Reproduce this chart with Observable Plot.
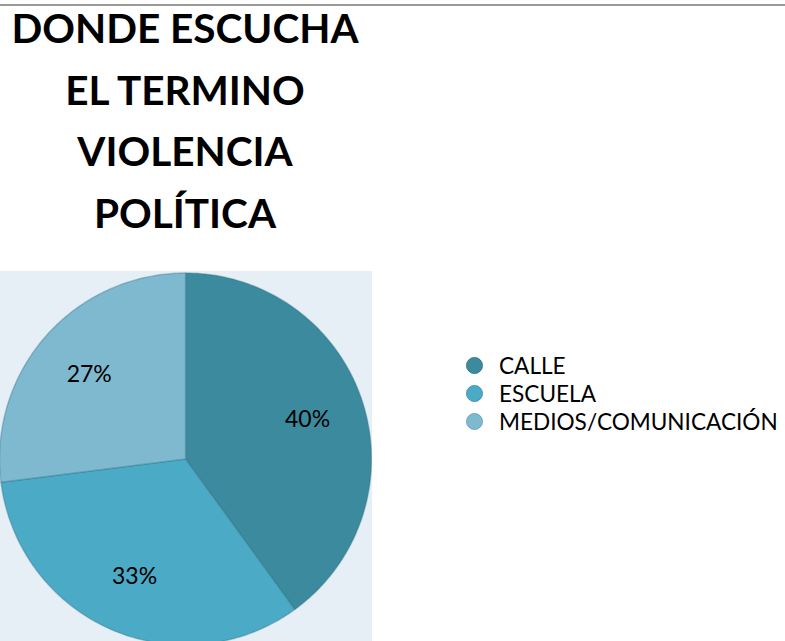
<!DOCTYPE html>
<html>
<head>
<meta charset="utf-8">
<script src="https://cdn.jsdelivr.net/npm/d3@7"></script>
<script src="https://cdn.jsdelivr.net/npm/@observablehq/plot@0.6"></script>
<style>
  html, body { margin: 0; padding: 0; background: #ffffff; }
  body { width: 785px; height: 641px; position: relative; overflow: hidden; font-family: Lato, "Open Sans", sans-serif; }
  #topline { position: absolute; left: 0; top: 4px; width: 785px; height: 2px; background: #9a9a9a; }
  #title { position: absolute; left: 0; top: -3px; width: 370px; text-align: center; font-weight: 700; font-size: 40.5px; line-height: 61.5px; color: #000; }
  #chart { position: absolute; left: 0; top: 271px; width: 372px; height: 370px; overflow: hidden; }
  #legend { position: absolute; left: 466px; top: 351px; font-size: 22.6px; color: #000; }
  .item { display: flex; align-items: center; height: 28px; }
  .sw { width: 17px; height: 17px; border-radius: 50%; margin-right: 16px; box-sizing: border-box; }
</style>
</head>
<body>
<div id="topline"></div>
<div id="title">DONDE ESCUCHA<br>EL TERMINO<br>VIOLENCIA<br>POLÍTICA</div>
<div id="chart"></div>
<div id="legend"></div>
<script>
const categories = ["CALLE", "ESCUELA", "MEDIOS/COMUNICACIÓN"];
const values = [40, 33, 27];
const valueLabels = ["40%", "33%", "27%"];
const colors = ["#3C8A9E", "#4BAAC5", "#7EB9CF"];
const edgeColors = ["#347b8d", "#4298b1", "#6ea7bd"];

const arcs = d3.pie().sort(null).value(d => d)(values);
const slicePts = [];
arcs.forEach((a, i) => {
  slicePts.push({key: categories[i], x: 0, y: 0});
  const n = 120;
  for (let k = 0; k <= n; k++) {
    const t = a.startAngle + (a.endAngle - a.startAngle) * k / n;
    slicePts.push({key: categories[i], x: Math.sin(t), y: Math.cos(t)});
  }
});
const labelPts = arcs.map((a, i) => {
  const m = (a.startAngle + a.endAngle) / 2;
  return {text: valueLabels[i], x: 0.69 * Math.sin(m), y: 0.69 * Math.cos(m)};
});

const chart = Plot.plot({
  width: 372,
  height: 370,
  margin: 0,
  x: {domain: [-1, 1], range: [-1, 371], axis: null},
  y: {domain: [-1, 1], range: [373.5, 1.5], axis: null},
  color: {domain: categories, range: colors},
  style: {background: "#E7EFF6", overflow: "hidden", fontFamily: "Lato, sans-serif"},
  marks: [
    Plot.line(slicePts, {x: "x", y: "y", z: "key", fill: "key", stroke: "#2c6f82", strokeOpacity: 0.35, strokeWidth: 1.5, curve: "linear-closed"}),
    Plot.text(labelPts, {x: "x", y: "y", text: "text", fontSize: 23, fontFamily: "Lato", fill: "#000"})
  ]
});
document.getElementById("chart").appendChild(chart);

const legend = document.getElementById("legend");
categories.forEach((c, i) => {
  const row = document.createElement("div");
  row.className = "item";
  const sw = document.createElement("span");
  sw.className = "sw";
  sw.style.background = colors[i];
  sw.style.border = "1.5px solid " + edgeColors[i];
  const tx = document.createElement("span");
  tx.textContent = c;
  row.appendChild(sw);
  row.appendChild(tx);
  legend.appendChild(row);
});
</script>
</body>
</html>
